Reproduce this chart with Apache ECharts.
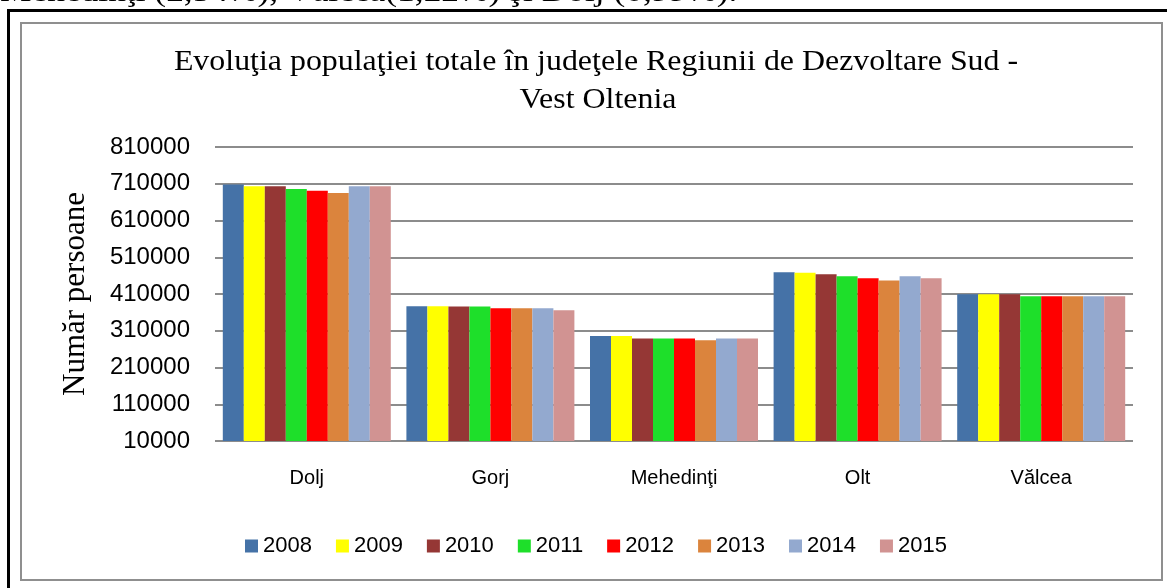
<!DOCTYPE html>
<html>
<head>
<meta charset="utf-8">
<script src="https://cdn.jsdelivr.net/npm/echarts@6/dist/echarts.min.js"></script>
<style>
html,body{margin:0;padding:0;background:#fff;}
#chart{width:1167px;height:588px;}
</style>
</head>
<body>
<div id="chart"></div>
<script>
const categories = ['Dolj', 'Gorj', 'Mehedinţi', 'Olt', 'Vălcea'];
const years = ['2008', '2009', '2010', '2011', '2012', '2013', '2014', '2015'];
const s2008 = [708000, 377000, 296000, 469000, 409000];
const s2009 = [703000, 377000, 296000, 468000, 409000];
const s2010 = [703000, 376000, 289000, 464000, 409000];
const s2011 = [696000, 376000, 289000, 458000, 404000];
const s2012 = [691000, 371000, 289000, 453000, 404000];
const s2013 = [685000, 371000, 284000, 447000, 404000];
const s2014 = [703000, 371000, 289000, 458000, 404000];
const s2015 = [703000, 366000, 289000, 453000, 404000];
const yTicks = [10000, 110000, 210000, 310000, 410000, 510000, 610000, 710000, 810000];
const titleLines = ['Evoluţia populaţiei totale în judeţele Regiunii de Dezvoltare Sud -', 'Vest Oltenia'];
const yAxisName = 'Număr persoane';
const pageText = 'Mehedinţi (2,54%), Vâlcea(1,22%) şi Dolj (0,99%).';
const seriesValues = [s2008, s2009, s2010, s2011, s2012, s2013, s2014, s2015];
const colors = ['#4572A7', '#FFFF00', '#953735', '#1EDF2A', '#FF0000', '#DB843D', '#93A9CF', '#D19392'];

const chart = echarts.init(document.getElementById('chart'), null, {renderer: 'canvas'});
chart.setOption({
  animation: false,
  backgroundColor: '#fff',
  color: colors,
  graphic: [
    {type: 'text', x: 0, y: -22, scaleX: 1.18, style: {text: pageText, font: '30px "Liberation Serif"', fill: '#000'}},
    {type: 'rect', shape: {x: 8.5, y: 10.5, width: 1200, height: 620}, style: {fill: 'none', stroke: '#000', lineWidth: 3}},
    {type: 'rect', shape: {x: 21, y: 23, width: 1141, height: 557}, style: {fill: 'none', stroke: '#8f8f8f', lineWidth: 2}},
    {type: 'text', x: 596, y: 62, scaleX: 1.1, style: {text: titleLines[0], font: '29px "Liberation Serif"', fill: '#000', align: 'center', verticalAlign: 'middle'}},
    {type: 'text', x: 598, y: 100, scaleX: 1.1, style: {text: titleLines[1], font: '29px "Liberation Serif"', fill: '#000', align: 'center', verticalAlign: 'middle'}}
  ],
  legend: {
    data: years, left: 240, top: 530, itemWidth: 13, itemHeight: 13, itemGap: 24,
    icon: 'rect',
    textStyle: {fontFamily: 'Liberation Sans', fontSize: 22, color: '#000'}
  },
  grid: {left: 215, right: 34, top: 147, bottom: 147, containLabel: false},
  xAxis: {
    type: 'category', data: categories,
    axisLine: {show: false}, axisTick: {show: false},
    axisLabel: {margin: 27, fontFamily: 'Liberation Sans', fontSize: 20, color: '#000'}
  },
  yAxis: {
    type: 'value', min: yTicks[0], max: yTicks[yTicks.length - 1], interval: yTicks[1] - yTicks[0],
    name: yAxisName, nameLocation: 'middle', nameRotate: 90, nameGap: 124,
    nameTextStyle: {fontFamily: 'Liberation Serif', fontSize: 31, color: '#000'},
    axisLine: {show: false}, axisTick: {show: false},
    axisLabel: {margin: 25, fontFamily: 'Liberation Sans', fontSize: 24, color: '#000', formatter: v => String(v)},
    splitLine: {lineStyle: {color: '#8c8c8c', width: 2}}
  },
  series: years.map((y, i) => ({
    name: y, type: 'bar', data: seriesValues[i],
    barGap: '0%', barCategoryGap: '8.5%',
    itemStyle: {color: colors[i]}
  }))
});
</script>
</body>
</html>
